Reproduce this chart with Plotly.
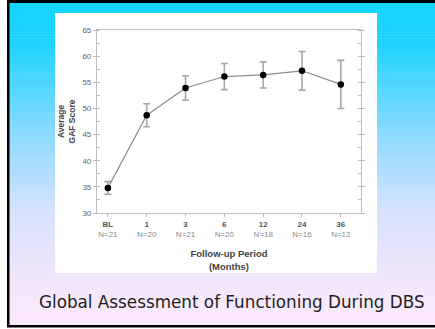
import plotly.graph_objects as go

periods = ["BL", "1", "3", "6", "12", "24", "36"]
n_counts = [21, 20, 21, 20, 18, 16, 12]
gaf_mean = [34.8, 48.7, 53.9, 56.1, 56.4, 57.2, 54.6]
gaf_err = [1.2, 2.2, 2.35, 2.5, 2.5, 3.7, 4.6]
y_ticks = [30, 35, 40, 45, 50, 55, 60, 65]

W, H = 435, 329
L, R, T, B = 97, 361, 30, 213

def px(x):
    return (x - L) / (R - L)

def py(y):
    return (B - y) / (B - T)

shapes = []
stops = [(0.0, (22, 212, 255)), (0.12, (30, 212, 255)), (0.4, (140, 218, 255)),
         (0.65, (215, 226, 252)), (0.85, (242, 230, 252)), (1.0, (252, 234, 252))]

def col(t):
    for i in range(len(stops) - 1):
        a, ca = stops[i]
        b, cb = stops[i + 1]
        if a <= t <= b:
            f = (t - a) / (b - a)
            return "rgb(%d,%d,%d)" % tuple(round(ca[k] + (cb[k] - ca[k]) * f) for k in range(3))
    return "rgb(252,234,252)"

y0, y1 = 3, 325
nstrip = 110
for i in range(nstrip):
    ya = y0 + (y1 - y0) * i / nstrip
    yb = y0 + (y1 - y0) * (i + 1) / nstrip + 0.6
    shapes.append(dict(type="rect", xref="paper", yref="paper", layer="below",
                       x0=px(9), x1=px(W + 2), y0=py(min(yb, y1)), y1=py(ya),
                       fillcolor=col((ya - y0) / (y1 - y0)), line=dict(width=0)))
# black frame
shapes.append(dict(type="rect", xref="paper", yref="paper", layer="below",
                   x0=px(7), x1=px(W + 2), y0=py(3), y1=py(-1),
                   fillcolor="black", line=dict(width=0)))
shapes.append(dict(type="rect", xref="paper", yref="paper", layer="below",
                   x0=px(7), x1=px(9.5), y0=py(327), y1=py(-1),
                   fillcolor="black", line=dict(width=0)))
shapes.append(dict(type="rect", xref="paper", yref="paper", layer="below",
                   x0=px(7), x1=px(W + 2), y0=py(327.5), y1=py(325),
                   fillcolor="black", line=dict(width=0)))
# white panel
shapes.append(dict(type="rect", xref="paper", yref="paper", layer="below",
                   x0=px(55), x1=px(377), y0=py(273), y1=py(13),
                   fillcolor="white", line=dict(width=0)))

ticktext = ["<b>%s</b><br><span style='color:#8a8a8a'>N=%d</span>" % (p, n)
            for p, n in zip(periods, n_counts)]

fig = go.Figure()
fig.add_trace(go.Scatter(
    x=list(range(len(periods))), y=gaf_mean, mode="lines+markers",
    line=dict(color="#8c8c8c", width=1.2),
    marker=dict(color="black", size=6.5),
    error_y=dict(type="data", array=gaf_err, visible=True, color="#a8a8a8",
                 thickness=1.6, width=3.5),
    showlegend=False, cliponaxis=False))

fig.update_layout(
    width=W, height=H,
    margin=dict(l=L, r=W - R, t=T, b=H - B, pad=0),
    paper_bgcolor="white", plot_bgcolor="white",
    shapes=shapes,
    font=dict(family="Liberation Sans, Arial, sans-serif", color="#555555"),
    xaxis=dict(range=[-0.28, 6.52], tickvals=list(range(len(periods))), ticktext=ticktext,
               tickfont=dict(size=8, color="#555555"), showgrid=False, zeroline=False,
               showline=True, linecolor="#bdbdbd", linewidth=1.2, mirror=True,
               ticks="outside", ticklen=3, tickcolor="#bdbdbd",
               title=dict(text="<b>Follow-up Period<br>(Months)</b>",
                          font=dict(size=9.5, color="#444444"), standoff=12)),
    yaxis=dict(range=[30, 65], tickvals=y_ticks,
               tickfont=dict(size=8, color="#666666"), showgrid=False, zeroline=False,
               showline=True, linecolor="#bdbdbd", linewidth=1.2, mirror="allticks",
               ticks="outside", ticklen=3, tickcolor="#bdbdbd",
               minor=dict(dtick=2.5, ticks="inside", ticklen=3, tickcolor="#bdbdbd"),
               title=dict(text="<b>Average<br>GAF Score</b>",
                          font=dict(size=8.5, color="#444444"), standoff=5)),
    annotations=[dict(text="Global Assessment of Functioning During DBS",
                      xref="paper", yref="paper", x=px(231.5), y=py(302),
                      xanchor="center", yanchor="middle", showarrow=False,
                      font=dict(family="DejaVu Sans, Verdana, sans-serif", size=16.8,
                                color="#1e1e1e"))],
)

fig.write_html("out.html", config={"displayModeBar": False},
               post_script="document.body.style.margin='0';document.body.style.overflow='hidden';")
